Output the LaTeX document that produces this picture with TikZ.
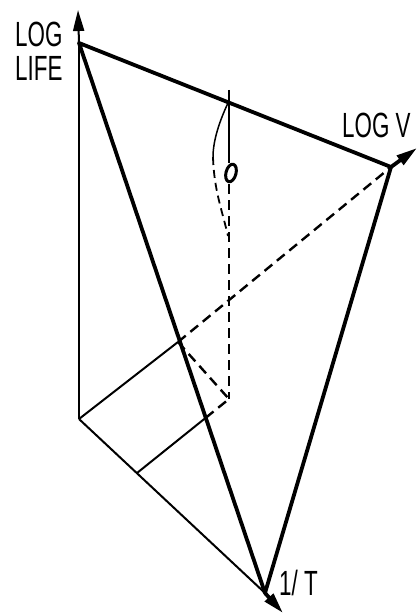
\documentclass[tikz,border=0pt]{standalone}
\usepackage{fontspec}
\newfontfamily\lblfont[FakeStretch=0.64]{Liberation Sans}
\usetikzlibrary{arrows.meta}

\begin{document}
\begin{tikzpicture}[x=1pt, y=-1pt,
    plane/.style={line width=3.8pt},
    base/.style={line width=2pt},
    hidden/.style={line width=2.4pt, dash pattern=on 10pt off 6pt},
    tip/.style={-{Triangle[length=21pt, width=11pt]}},
    lbl/.style={inner sep=0pt, anchor=base west, font=\lblfont\fontsize{35}{38}\selectfont}]
  \useasboundingbox (0,0) rectangle (418,615);

  % axes corner and the triangle
  \coordinate (O) at (79,419);
  \coordinate (A) at (79,43);
  \coordinate (B) at (265,593);
  \coordinate (C) at (391,167);
  \coordinate (lifetip) at (78,10);
  \coordinate (vtip) at (417,148);
  \coordinate (ttip) at (283,613);

  % base parallelogram
  \coordinate (F) at (178,342);
  \coordinate (E) at (137,473);
  \coordinate (D) at (229,399);
  \coordinate (G) at (intersection of A--B and E--D);

  % vertical through the point
  \coordinate (P) at (229,90);
  \coordinate (Q) at (229,163);
  \coordinate (R) at (229,184);

  % axes
  \draw[base] (O) -- (A);
  \draw[base, tip] (A) -- (lifetip);
  \draw[base] (O) -- (F);
  \draw[hidden] (F) -- (C);
  \draw[plane, tip] (C) -- (vtip);
  \draw[base] (O) -- (B);
  \draw[plane, tip] (B) -- (ttip);

  % triangle
  \draw[plane, line join=round] (A) -- (C) -- (B) -- cycle;

  % projections
  \draw[hidden] (F) -- (D);
  \draw[base] (E) -- (G);
  \draw[hidden] (G) -- (D);
  \draw[base] (P) -- (Q);
  \draw[hidden] (R) -- (D);
  \draw[line width=3pt, rotate around={-15:(231,173)}] (231,173) ellipse [x radius=5pt, y radius=9pt];

  % curve
  \draw[line width=1.5pt] (228,103) .. controls (220,120) and (213,140) .. (213,157);
  \draw[line width=1.8pt, dash pattern=on 8pt off 5pt] (213,157) .. controls (214,190) and (222,210) .. (228,236);

  % labels
  \node[lbl] (loglbl) at (15,47) {LOG};
  \node[lbl] (lifelbl) at (15,81) {LIFE};
  \node[lbl] (vlbl) at (342,137) {LOG V};
  \node[lbl] (tlbl) at (279,595) {1/ T};
\end{tikzpicture}
\end{document}
